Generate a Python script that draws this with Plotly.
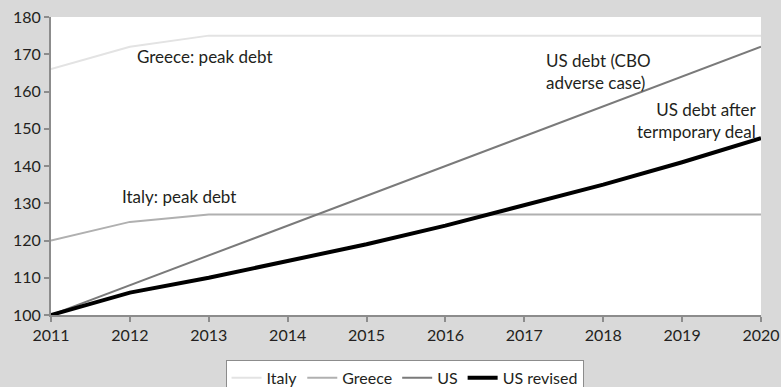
import plotly.graph_objects as go

years = [2011, 2012, 2013, 2014, 2015, 2016, 2017, 2018, 2019, 2020]
italy = [166, 172, 175, 175, 175, 175, 175, 175, 175, 175]
greece = [120, 125, 127, 127, 127, 127, 127, 127, 127, 127]
us = [100, 108, 116, 124, 132, 140, 148, 156, 164, 172]
us_revised = [100, 106, 110, 114.5, 119, 124, 129.5, 135, 141, 147.5]

FONT = "Lato, Open Sans, sans-serif"
TXT = "#231f20"

fig = go.Figure()
for name, vals, color, w in [
    ("Italy", italy, "#e3e3e3", 2),
    ("Greece", greece, "#b0b0b0", 2),
    ("US", us, "#7a7a7a", 2),
    ("US revised", us_revised, "#000000", 4),
]:
    fig.add_trace(go.Scatter(x=years, y=vals, name=name, mode="lines",
                             line=dict(color=color, width=w)))

# label text, placed by data coords
notes = [
    (2012.06, 169.3, "Greece: peak debt", "left"),
    (2011.87, 131.9, "Italy: peak debt", "left"),
    (2017.25, 165.5, "US debt (CBO<br>adverse case)", "left"),
    (2019.97, 152.1, "US debt after<br>termporary deal", "right"),
]
for x, y, t, al in notes:
    fig.add_annotation(x=x, y=y, text=t, showarrow=False, align=al,
                       xanchor=al, yanchor="middle",
                       font=dict(size=17, color=TXT, family=FONT))

fig.update_layout(
    width=781, height=387,
    paper_bgcolor="#d9d9d9", plot_bgcolor="#ffffff",
    margin=dict(l=51, r=20, t=17, b=72, autoexpand=False),
    font=dict(family=FONT, size=16, color=TXT),
    showlegend=True,
    legend=dict(orientation="h", x=0.518, xanchor="center", xref="container",
                y=0.07, yanchor="top", yref="container",
                bgcolor="#ffffff", bordercolor="#8c8c8c", borderwidth=1,
                font=dict(size=16, color=TXT), itemwidth=30, tracegroupgap=0),
)
fig.update_xaxes(range=[2011, 2020], tickvals=years, showgrid=False, zeroline=False,
                 showline=True, linecolor="#8c8c8c", linewidth=2, automargin=False,
                 ticks="outside", tickcolor="#8c8c8c", ticklen=5, tickwidth=2)
fig.update_yaxes(range=[100, 180], dtick=10, showgrid=False, zeroline=False,
                 showline=True, linecolor="#8c8c8c", linewidth=2, automargin=False,
                 ticks="outside", tickcolor="#8c8c8c", ticklen=5, tickwidth=2)

fig.write_html("out.html", config={"displayModeBar": False},
               post_script="document.body.style.margin='0';")
